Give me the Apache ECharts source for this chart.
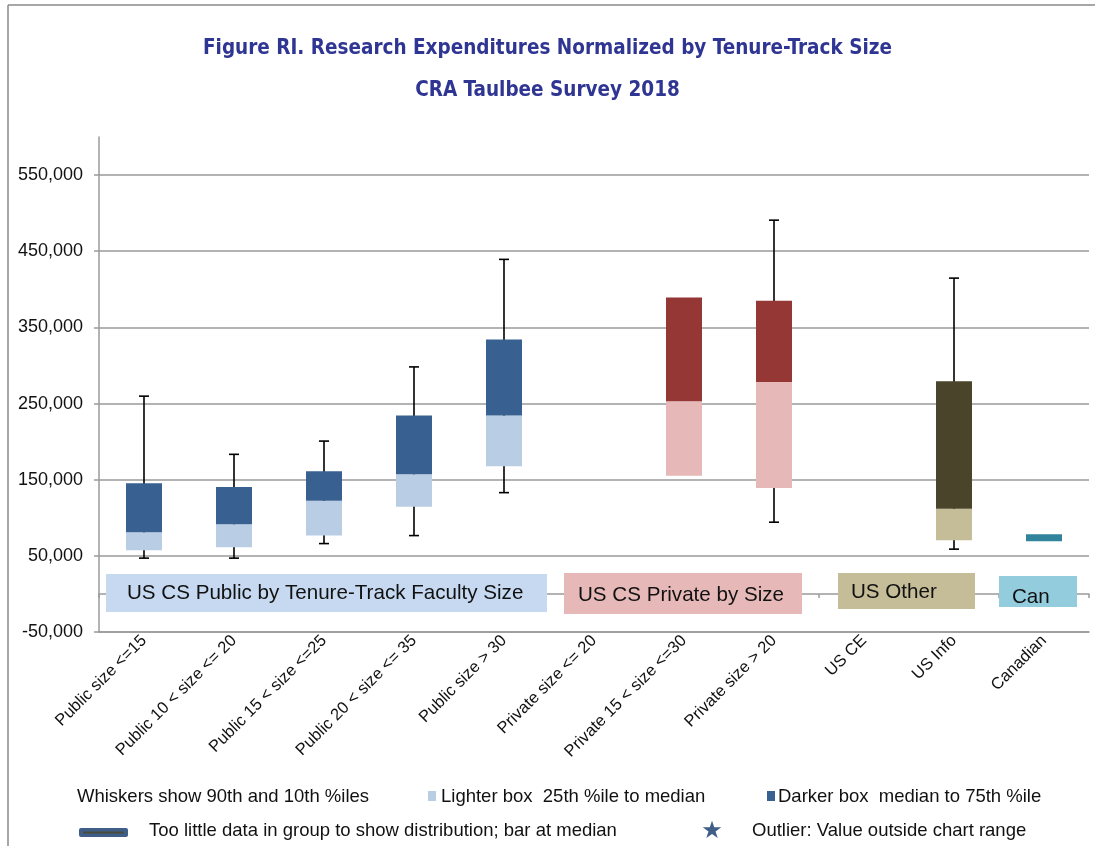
<!DOCTYPE html>
<html>
<head>
<meta charset="utf-8">
<script src="https://cdn.jsdelivr.net/npm/echarts@6/dist/echarts.min.js"></script>
<style>
  html, body { margin: 0; padding: 0; background: #ffffff; }
  #chart { width: 1095px; height: 846px; }
</style>
</head>
<body>
<div id="chart"></div>
<script>
// ---------------- data ----------------
const categories = [
  'Public size <=15', 'Public 10 < size <= 20', 'Public 15 < size <=25',
  'Public 20 < size <= 35', 'Public size > 30', 'Private size <= 20',
  'Private 15 < size <=30', 'Private size > 20', 'US CE', 'US Info', 'Canadian'
];
const groupOf = ['pub', 'pub', 'pub', 'pub', 'pub', 'priv', 'priv', 'priv', 'other', 'other', 'can'];
const p10    = [47000, 47000, 66100, 76600, 133000, null, null, 94200, null, 58800, null];
const p25    = [57500, 61400, 76600, 114600, 167600, null, 155200, 139100, null, 70600, null];
const median = [81000, 91500, 122500, 157100, 234400, null, 253100, 278400, null, 112000, null];
const p75    = [145300, 140400, 161000, 234400, 334000, null, 389400, 385100, null, 279400, null];
const p90    = [259700, 183300, 200700, 298100, 439300, null, null, 490800, null, 414700, null];
const medianOnly = [null, null, null, null, null, null, null, null, null, null, 73600];
const yTicks = [-50000, 50000, 150000, 250000, 350000, 450000, 550000];

const groupLabels = ['US CS Public by Tenure-Track Faculty Size', 'US CS Private by Size', 'US Other', 'Can'];
const titleLines = ['Figure RI. Research Expenditures Normalized by Tenure-Track Size', 'CRA Taulbee Survey 2018'];
const legendTexts = [
  'Whiskers show 90th and 10th %iles',
  'Lighter box  25th %ile to median',
  'Darker box  median to 75th %ile',
  'Too little data in group to show distribution; bar at median',
  'Outlier: Value outside chart range'
];

// ---------------- styles ----------------
const colors = {
  pub:   { dark: '#386090', light: '#B9CDE5', tag: '#C6D9F1' },
  priv:  { dark: '#953735', light: '#E6B9B8', tag: '#E6B9B8' },
  other: { dark: '#4A452A', light: '#C4BD97', tag: '#C4BD97' },
  can:   { dark: '#31849B', light: '#93CDDD', tag: '#93CDDD' }
};
const gridColor = '#9a9a9a';
const txt = '#111111';
const sans = '"Liberation Sans", Arial, Helvetica, sans-serif';
const titleFamily = '"Liberation Sans Narrow", "DejaVu Sans Condensed", "Arial Narrow", sans-serif';

const chart = echarts.init(document.getElementById('chart'), null, { renderer: 'canvas' });

function renderItem(params, api) {
  const i = params.dataIndex;
  const x = api.coord([i, 0])[0];
  const w = api.size([1, 0])[0] * 0.4;
  const c = colors[groupOf[i]];
  const children = [];
  if (p90[i] != null && p10[i] != null) {
    const yt = api.coord([i, p90[i]])[1];
    const yb = api.coord([i, p10[i]])[1];
    const ls = { stroke: '#000', lineWidth: 1.6 };
    children.push({ type: 'line', shape: { x1: x, y1: yt, x2: x, y2: yb }, style: ls });
    children.push({ type: 'line', shape: { x1: x - 5, y1: yt, x2: x + 5, y2: yt }, style: ls });
    children.push({ type: 'line', shape: { x1: x - 5, y1: yb, x2: x + 5, y2: yb }, style: ls });
  }
  if (p25[i] != null && median[i] != null && p75[i] != null) {
    const y25 = api.coord([i, p25[i]])[1];
    const y50 = api.coord([i, median[i]])[1];
    const y75 = api.coord([i, p75[i]])[1];
    children.push({ type: 'rect', shape: { x: x - w / 2, y: y50, width: w, height: y25 - y50 }, style: { fill: c.light } });
    children.push({ type: 'rect', shape: { x: x - w / 2, y: y75, width: w, height: y50 - y75 }, style: { fill: c.dark } });
  }
  if (medianOnly[i] != null) {
    const ym = api.coord([i, medianOnly[i]])[1];
    children.push({ type: 'rect', shape: { x: x - w / 2, y: ym - 3.5, width: w, height: 7 }, style: { fill: c.dark } });
  }
  return { type: 'group', children };
}

function tag(x, y, w, h, fill, text, tx, ty) {
  return [
    { type: 'rect', z: 100, shape: { x, y, width: w, height: h }, style: { fill } },
    { type: 'text', z: 101, x: tx, y: ty, style: { text, font: '20.6px ' + sans, fill: txt, verticalAlign: 'middle', align: 'left' } }
  ];
}

const legendFont = '18.5px ' + sans;

const option = {
  backgroundColor: '#ffffff',
  animation: false,
  title: [
    { text: titleLines[0], left: 'center', top: 33,
      textStyle: { fontFamily: titleFamily, fontWeight: 'bold', fontSize: 20.5, color: '#2F3592' } },
    { text: titleLines[1], left: 'center', top: 75,
      textStyle: { fontFamily: titleFamily, fontWeight: 'bold', fontSize: 20.5, color: '#2F3592' } }
  ],
  grid: { left: 99, right: 6, top: 137, bottom: 214, containLabel: false, outerBoundsMode: 'none' },
  xAxis: [
    {
      type: 'category', data: categories, position: 'bottom',
      axisLine: { onZero: true, lineStyle: { color: gridColor, width: 1.5 } },
      axisTick: { show: true, length: 4, lineStyle: { color: gridColor, width: 1.5 } },
      axisLabel: { show: false }, splitLine: { show: false }
    },
    {
      type: 'category', data: categories, position: 'bottom',
      axisLine: { onZero: false, lineStyle: { color: gridColor, width: 1.5 } },
      axisTick: { show: false },
      axisLabel: { show: true, rotate: 45, interval: 0, margin: 6, fontSize: 16.5, fontFamily: sans, color: txt },
      splitLine: { show: false }
    }
  ],
  yAxis: {
    type: 'value', min: -50000, max: 600000, interval: 100000,
    axisLine: { show: true, onZero: false, lineStyle: { color: gridColor, width: 1.5 } },
    axisTick: { show: true, length: 5, customValues: yTicks, lineStyle: { color: gridColor, width: 1.5 } },
    axisLabel: { customValues: yTicks, margin: 16, fontSize: 18, fontFamily: sans, color: txt,
      formatter: v => v.toLocaleString('en-US') },
    splitLine: { show: true, lineStyle: { color: gridColor, width: 1.5 } }
  },
  series: [
    {
      type: 'custom', xAxisIndex: 1, yAxisIndex: 0, z: 10,
      renderItem,
      encode: { x: 0, y: [1, 2] },
      data: categories.map((c, i) => [i, p10[i] == null ? 0 : p10[i], p90[i] == null ? 0 : p90[i]])
    }
  ],
  graphic: [
    // outer frame
    { type: 'line', shape: { x1: 8, y1: 5, x2: 1095, y2: 5 }, style: { stroke: '#8a8a8a', lineWidth: 1.5 } },
    { type: 'line', shape: { x1: 8, y1: 5, x2: 8, y2: 846 }, style: { stroke: '#8a8a8a', lineWidth: 1.5 } },
    // group tags
    ...tag(106, 574, 441, 38, colors.pub.tag, groupLabels[0], 127, 593),
    ...tag(564, 573, 238, 41, colors.priv.tag, groupLabels[1], 578, 595),
    ...tag(838, 573, 137, 36, colors.other.tag, groupLabels[2], 851, 592),
    ...tag(999, 576, 78, 31, colors.can.tag, groupLabels[3], 1012, 597),
    // legend
    { type: 'text', x: 77, y: 797, style: { text: legendTexts[0], font: legendFont, fill: txt, verticalAlign: 'middle' } },
    { type: 'rect', shape: { x: 428, y: 791, width: 8, height: 10 }, style: { fill: colors.pub.light } },
    { type: 'text', x: 441, y: 797, style: { text: legendTexts[1], font: legendFont, fill: txt, verticalAlign: 'middle' } },
    { type: 'rect', shape: { x: 767, y: 791, width: 8, height: 10 }, style: { fill: colors.pub.dark } },
    { type: 'text', x: 778, y: 797, style: { text: legendTexts[2], font: legendFont, fill: txt, verticalAlign: 'middle' } },
    { type: 'rect', shape: { x: 79, y: 828, width: 49, height: 9, r: 2 }, style: { fill: '#3E5E88' } },
    { type: 'rect', shape: { x: 83, y: 831.5, width: 41, height: 2 }, style: { fill: '#4A4A3A' } },
    { type: 'text', x: 149, y: 831, style: { text: legendTexts[3], font: legendFont, fill: txt, verticalAlign: 'middle' } },
    { type: 'text', x: 712, y: 832, style: { text: '\u2605', font: '24px "DejaVu Sans", sans-serif', fill: '#3E5E88', verticalAlign: 'middle', align: 'center' } },
    { type: 'text', x: 752, y: 831, style: { text: legendTexts[4], font: legendFont, fill: txt, verticalAlign: 'middle' } }
  ]
};

chart.setOption(option);
</script>
</body>
</html>
